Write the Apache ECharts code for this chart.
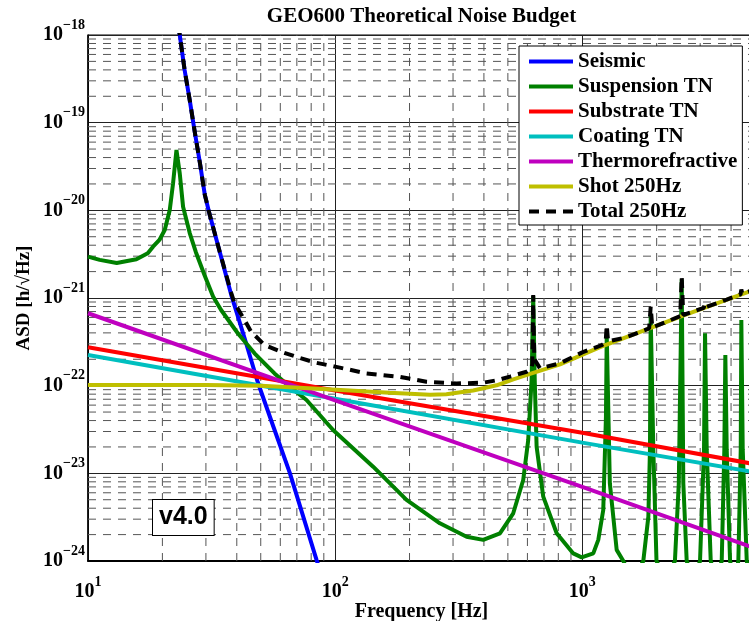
<!DOCTYPE html>
<html>
<head>
<meta charset="utf-8">
<script src="https://cdn.jsdelivr.net/npm/echarts@6/dist/echarts.min.js"></script>
<style>html,body{margin:0;padding:0;background:#fff}#c{width:749px;height:621px}</style>
</head>
<body>
<div id="c"></div>
<script>
// ---- data (frequency [Hz], ASD) ----
const seriesNames = ['Seismic','Suspension TN','Substrate TN','Coating TN','Thermorefractive','Shot 250Hz','Total 250Hz'];

const seismic = [[22.65,2e-18],[23.51,1e-18],[24.6,3.99e-19],[25.8,1.81e-19],[27.04,7.83e-20],[28.33,3.56e-20],[29.7,1.5e-20],[31.1,8.85e-21],[34.14,3.35e-21],[38.0,1.08e-21],[43.0,3.5e-22],[48.6,1.1e-22],[56.5,3.29e-23],[65.55,1.01e-23],[84.1,1.03e-24],[90,5.8e-25]];

const suspension = [[10,2.96e-21],[11.15,2.72e-21],[13.07,2.51e-21],[15.7,2.77e-21],[17.45,3.24e-21],[18.33,3.85e-21],[19.45,4.59e-21],[20.44,5.97e-21],[21.42,1.01e-20],[22.09,2.03e-20],[22.8,4.88e-20],[23.51,2.64e-20],[24.25,1.1e-20],[25.8,5.5e-21],[27.3,3.35e-21],[29.6,1.83e-21],[32.07,1.04e-21],[34.56,7.3e-22],[40.37,3.96e-22],[47.19,2.34e-22],[56.84,1.38e-22],[65.55,9.74e-23],[76.6,6.87e-23],[98.1,3.12e-23],[142.5,1.19e-23],[194.5,4.97e-24],[265.4,2.69e-24],[340.4,1.89e-24],[397.3,1.74e-24],[464.4,2.07e-24],[525.6,3.5e-24],[576.9,8.4e-24],[604.4,2.4e-23],[623.8,1.16e-22],[633.2,1.05e-21],[642.5,1.1e-22],[653.6,2.01e-23],[695.3,5.42e-24],[787.8,2.07e-24],[919.5,1.22e-24],[994.5,1.1e-24],[1108,1.22e-24],[1161,1.74e-24],[1216,3.82e-24],[1247,4.43e-23],[1256,3.9e-22],[1293,7.7e-24],[1378,1.34e-24],[1466,1.0e-24],[1600,6e-25],[1766,1.0e-24],[1851,3.2e-24],[1879,1.85e-23],[1892,6.4e-22],[1939,1.85e-23],[1997,1.0e-24],[2180,6e-25],[2371,1.0e-24],[2458,7.7e-24],[2526,1.63e-21],[2564,7.7e-24],[2646,1.0e-24],[2820,6e-25],[2996,1.0e-24],[3109,1.85e-23],[3139,3.96e-22],[3189,1.85e-23],[3310,1.0e-24],[3480,6e-25],[3667,1.0e-24],[3757,1.85e-23],[3793,2.24e-22],[3842,1.85e-23],[3963,1.0e-24],[4120,6e-25],[4281,1.0e-24],[4378,1.85e-23],[4402,5.61e-22],[4460,1.85e-23],[4630,1.0e-24],[4800,6e-25]];

const substrate = [[10,2.74e-22],[100,8.8e-23],[1000,2.9e-23],[5000,1.27e-23]];
const coating = [[10,2.24e-22],[100,7.1e-23],[1000,2.24e-23],[5000,1.03e-23]];
const thermorefractive = [[10,6.7e-22],[100,6.8e-23],[1000,7.0e-24],[5000,1.4e-24]];

const shot = [[10,1.02e-22],[30,1.02e-22],[50,1.0e-22],[65.6,0.96e-22],[101,0.9e-22],[166,0.83e-22],[242,0.79e-22],[282,0.8e-22],[362,0.88e-22],[450,1.01e-22],[526,1.18e-22],[624,1.38e-22],[813,1.75e-22],[1180,2.75e-22],[2526,6.2e-22],[4732,1.18e-21],[5000,1.24e-21]];

const total = [[22.65,2e-18],[23.51,1e-18],[24.6,3.99e-19],[25.8,1.81e-19],[27.04,7.83e-20],[28.33,3.56e-20],[29.7,1.5e-20],[31.1,8.85e-21],[34.14,3.35e-21],[38.0,1.14e-21],[39.1,8.8e-22],[43.0,5.61e-22],[45.7,4.13e-22],[51.8,2.91e-22],[60.4,2.44e-22],[71.9,2.07e-22],[84.1,1.82e-22],[100,1.65e-22],[134,1.38e-22],[183,1.26e-22],[234,1.11e-22],[310,1.06e-22],[397,1.08e-22],[456,1.16e-22],[510,1.27e-22],[595,1.44e-22],[620,1.55e-22],[628,1.75e-22],[632,6e-22],[633.2,1.08e-21],[634.5,6e-22],[640,2e-22],[674,1.58e-22],[813,1.8e-22],[1000,2.4e-22],[1200,2.9e-22],[1243,3.1e-22],[1256,4.92e-22],[1272,3.2e-22],[1500,3.55e-22],[1865,4.5e-22],[1892,7.96e-22],[1920,4.6e-22],[2490,6.2e-22],[2526,1.75e-21],[2562,6.4e-22],[3100,7.7e-22],[3139,8.7e-22],[3180,7.9e-22],[3757,9.4e-22],[3793,9.8e-22],[3842,9.6e-22],[4370,1.1e-21],[4402,1.25e-21],[4440,1.12e-21],[5000,1.25e-21]];

// minor grid positions (2..9 per decade)
const xMinor = [20,30,40,50,60,70,80,90,200,300,400,500,600,700,800,900,2000,3000,4000];
const yMinor = [];
[-24,-23,-22,-21,-20,-19].forEach(function(e){ [2,3,4,5,6,7,8,9].forEach(function(k){ yMinor.push(k*Math.pow(10,e)); }); });
const xRange = [10, 5000];
const yRange = [0.9999e-24, 1e-18];

const colors = ['#0000ff','#008000','#ff0000','#00bfbf','#bf00bf','#bfbf00','#000000'];
const SERIF = '"Liberation Serif","Times New Roman",serif';

function expFmt(v){
  const e = Math.log10(v), r = Math.round(e);
  if (Math.abs(e - r) > 1e-6) return '';
  return '{b|10}{s|' + (r < 0 ? '\u2212' + (-r) : r) + '}';
}
const richLab = {
  b:{fontFamily:SERIF,fontWeight:'bold',fontSize:20,lineHeight:20,color:'#000',verticalAlign:'middle'},
  s:{fontFamily:SERIF,fontWeight:'bold',fontSize:14,lineHeight:14,color:'#000',verticalAlign:'middle',padding:[0,0,20,0]}
};

// minor grid line data built from tick values (gaps with '-')
const gridXData = [], gridYData = [];
xMinor.forEach(function(v){ gridXData.push([v,yRange[0]],[v,yRange[1]],[v,'-']); });
yMinor.forEach(function(v){ gridYData.push([xRange[0],v],[xRange[1],v],['-',v]); });

const chart = echarts.init(document.getElementById('c'), null, {renderer:'canvas'});
const dataSets = [seismic, suspension, substrate, coating, thermorefractive, shot, total];
const gridStyle = {color:'#555', width:1, type:[8,7]};
const series = [
  {name:'gx', type:'line', data:gridXData, symbol:'none', silent:true, z:1, connectNulls:false, lineStyle:gridStyle},
  {name:'gy', type:'line', data:gridYData, symbol:'none', silent:true, z:1, connectNulls:false, lineStyle:gridStyle}
];
dataSets.forEach(function(d,i){
  series.push({
    name:seriesNames[i], type:'line', data:d, symbol:'none', showSymbol:false, z:2+i,
    clip:true, silent:true,
    lineStyle:{color:colors[i], width:4, type: i===6 ? [10,7] : 'solid'},
    itemStyle:{color:colors[i]}
  });
});
const solidIcon = 'path://M0,0H44V4H0Z';
const dashIcon = 'path://M0,0H10V4H0Z M17,0H27V4H17Z M34,0H44V4H34Z';

chart.setOption({
  animation:false,
  backgroundColor:'#fff',
  title:{text:'GEO600 Theoretical Noise Budget', left:421.5, top:6, textAlign:'center', padding:0,
    textStyle:{fontFamily:SERIF, fontWeight:'bold', fontSize:21, color:'#000'}},
  grid:{left:88, top:35, width:667, height:526, show:true, borderColor:'#000', borderWidth:1, containLabel:false, outerBoundsMode:'none'},
  legend:{data:seriesNames.map(function(n,i){return {name:n, icon: i===6 ? dashIcon : solidIcon};}),
    orient:'vertical', left:519, top:46, padding:[5,5,3,10], itemGap:4, itemWidth:44, itemHeight:4, symbolKeepAspect:false,
    backgroundColor:'#fff', borderColor:'#000', borderWidth:1, borderRadius:0, selectedMode:false, z:20,
    textStyle:{fontFamily:SERIF, fontWeight:'bold', fontSize:21, color:'#000'}},
  xAxis:{type:'log', logBase:10, min:xRange[0], max:xRange[1], name:'Frequency [Hz]', nameLocation:'middle', nameGap:41, nameMoveOverlap:false,
    nameTextStyle:{fontFamily:SERIF, fontWeight:'bold', fontSize:20, color:'#000'},
    axisLine:{show:true, onZero:false, lineStyle:{color:'#000', width:2}},
    axisTick:{show:false}, minorTick:{show:false},
    axisLabel:{formatter:expFmt, margin:21, rich:richLab, color:'#000', showMinLabel:true, showMaxLabel:false, hideOverlap:false},
    splitLine:{show:true, lineStyle:{color:'#222', width:1}}},
  yAxis:{type:'log', logBase:10, min:yRange[0], max:yRange[1], name:'ASD [h/\u221AHz]', nameLocation:'middle', nameGap:54, nameMoveOverlap:false,
    nameTextStyle:{fontFamily:SERIF, fontWeight:'bold', fontSize:19, color:'#000'},
    axisLine:{show:true, onZero:false, lineStyle:{color:'#000', width:1.5}},
    axisTick:{show:false}, minorTick:{show:false},
    axisLabel:{formatter:expFmt, margin:3, rich:richLab, color:'#000', showMinLabel:true, showMaxLabel:true, hideOverlap:false},
    splitLine:{show:true, lineStyle:{color:'#222', width:1}}},
  graphic:[{type:'text', left:152, top:499, z:100,
    style:{text:'v4.0', font:'bold 25px "Liberation Sans", Arial, sans-serif', fill:'#000',
      backgroundColor:'#fff', borderColor:'#000', borderWidth:1, padding:[4,6,4,6], lineHeight:27}}],
  series:series
});
</script>
</body>
</html>
